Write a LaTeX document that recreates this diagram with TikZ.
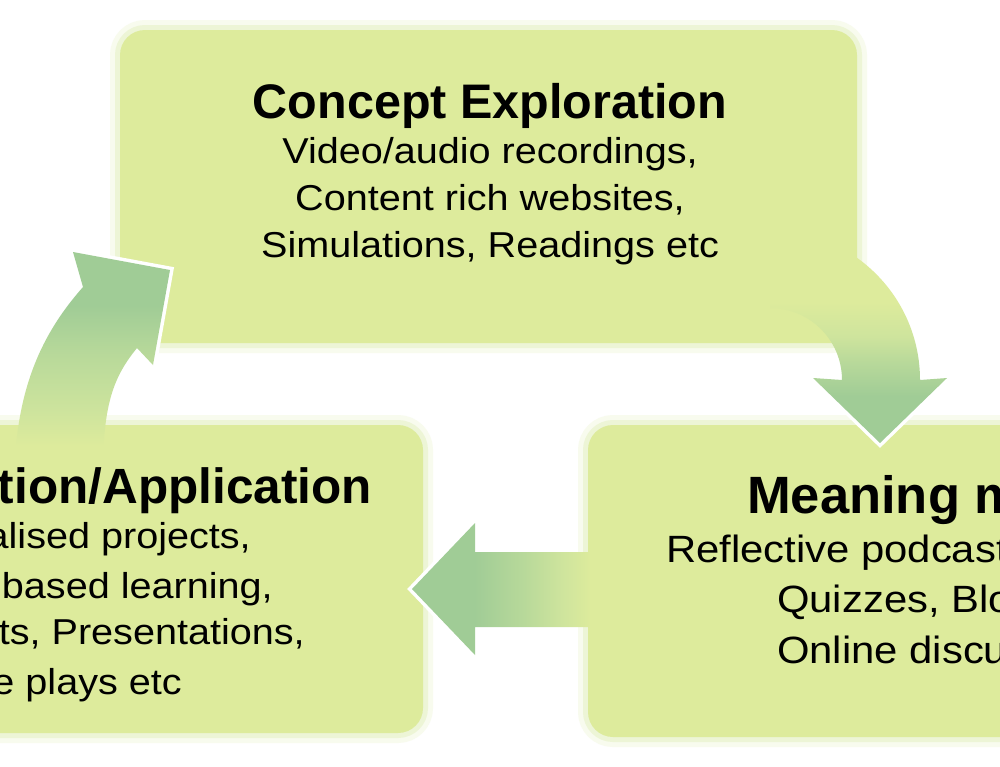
\documentclass[tikz,border=0pt]{standalone}
\usepackage{fontspec}
\setmainfont{Liberation Sans}
\newfontfamily\bodyfont[FakeStretch=1.1]{Liberation Sans}
\definecolor{boxfill}{RGB}{221,235,156}
\definecolor{glowA}{RGB}{248,251,238}
\definecolor{glowB}{RGB}{237,245,214}
\definecolor{adark}{RGB}{160,204,150}
\definecolor{amid}{RGB}{184,217,154}
\definecolor{alight}{RGB}{206,228,157}
\pgfdeclarehorizontalshading{hshadeL}{100bp}{color(0bp)=(adark); color(40bp)=(adark); color(52bp)=(amid); color(61bp)=(alight); color(68bp)=(boxfill); color(100bp)=(boxfill)}
\pgfdeclareverticalshading{vshadeR}{100bp}{color(0bp)=(adark); color(36bp)=(adark); color(44bp)=(amid); color(50bp)=(alight); color(58bp)=(boxfill); color(100bp)=(boxfill)}
\pgfdeclareverticalshading{vshadeU}{100bp}{color(0bp)=(boxfill); color(28bp)=(boxfill); color(36bp)=(alight); color(50bp)=(amid); color(62bp)=(adark); color(100bp)=(adark)}
\tikzset{
  panel/.style={rectangle, rounded corners=25pt, fill=boxfill, inner sep=0pt,
    preaction={draw=glowA, line width=20pt},
    preaction={draw=glowB, line width=10pt}},
  ttl/.style={inner sep=0pt, font=\fontsize{48.5}{58}\selectfont\bfseries, text=black},
  bodytxt/.style={inner sep=0pt, font=\bodyfont\fontsize{36}{47}\selectfont, text=black},
  headrim/.style={draw=white, line width=7pt, line join=miter},
}
\begin{document}
\begin{tikzpicture}[x=1pt,y=-1pt]
\useasboundingbox (0,0) rectangle (1000,766);
\clip (0,0) rectangle (1000,766);
\fill[white] (0,0) rectangle (1000,766);

% panels
\node (ce) [panel, minimum width=737pt, minimum height=313pt] at (488.5,186.5) {};
\node (da) [panel, minimum width=743pt, minimum height=308pt] at (51.5,579) {};
\node (mm) [panel, minimum width=737pt, minimum height=312pt] at (956.5,581) {};

% arrow: Meaning making -> Demonstration/Application
\coordinate (la-tip) at (412,589);
\draw[headrim] (475,523) -- (la-tip) -- (475,655) -- cycle;
\shade[shading=hshadeL] (620,552) -- (475,552) -- (475,523) -- (la-tip) -- (475,655) -- (475,627) -- (620,627) -- cycle;

% arrow: Demonstration/Application -> Concept Exploration
\coordinate (ua-tip) at (170,270);
\draw[headrim] (73,252) -- (ua-tip) -- (153,365) -- (137,348) -- (83,287) -- cycle;
\shade[shading=vshadeU] (15,458) .. controls (20,380) and (45,330) .. (83,287) -- (73,252) -- (ua-tip) -- (153,365) -- (137,348) .. controls (115,375) and (105,400) .. (103,458) -- cycle;

% arrow: Concept Exploration -> Meaning making
\coordinate (ra-tip) at (880,443);
\draw[headrim] (813,378) -- (ra-tip) -- (947,378) -- cycle;
\shade[shading=vshadeR] (770,230) .. controls (852.8,230) and (920,297.2) .. (920,380) -- (947,378) -- (ra-tip) -- (813,378) -- (842,380) .. controls (842,340.2) and (809.8,308) .. (770,308) -- cycle;

% texts: Concept Exploration
\node (ce-t) [ttl, anchor=base] at (490,118) {Concept Exploration};
\node (ce-1) [bodytxt, anchor=base] at (490,163) {Video/audio recordings,};
\node (ce-2) [bodytxt, anchor=base] at (490,210) {Content rich websites,};
\node (ce-3) [bodytxt, anchor=base] at (490,257) {Simulations, Readings etc};

% texts: Demonstration/Application
\node (da-t) [ttl, font=\fontsize{49.5}{58}\selectfont\bfseries, anchor=base east] at (372,503) {Demonstration/Application};
\node (da-1) [bodytxt, anchor=base east] at (251,548) {Personalised projects,};
\node (da-2) [bodytxt, anchor=base east] at (273,598) {Problem based learning,};
\node (da-3) [bodytxt, anchor=base east] at (305,644) {Reports, Presentations,};
\node (da-4) [bodytxt, anchor=base east] at (182,694) {Role plays etc};

% texts: Meaning making
\node (mm-t) [ttl, font=\fontsize{52.5}{62}\selectfont\bfseries, anchor=base west] at (747,513) {Meaning making};
\node (mm-1) [bodytxt, font=\bodyfont\fontsize{38}{50}\selectfont, anchor=base west] at (666,562) {Reflective podcasts, Wikis,};
\node (mm-2) [bodytxt, font=\bodyfont\fontsize{38}{50}\selectfont, anchor=base west] at (777,612) {Quizzes, Blogs,};
\node (mm-3) [bodytxt, font=\bodyfont\fontsize{38}{50}\selectfont, anchor=base west] at (777,663) {Online discussions};
\end{tikzpicture}
\end{document}
